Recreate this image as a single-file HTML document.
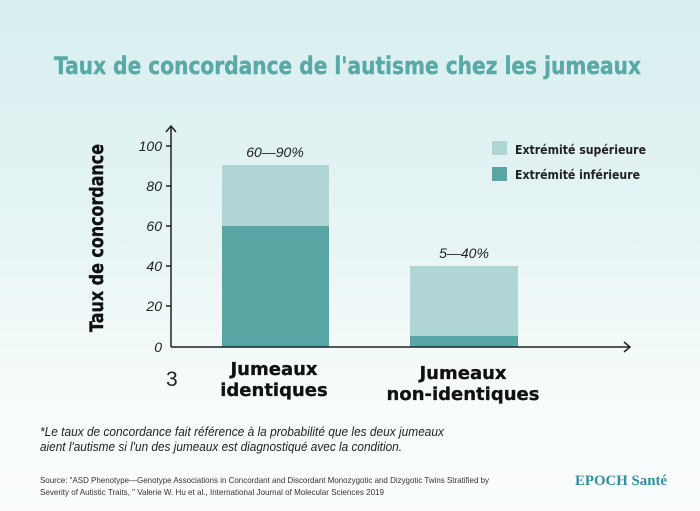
<!DOCTYPE html>
<html><head><meta charset="utf-8"><style>
html,body{margin:0;padding:0}
body{width:700px;height:511px;overflow:hidden;background:linear-gradient(180deg,#d8eff0 0%,#e6f4f4 45%,#f6fbfb 75%,#fbfdfd 100%)}
</style></head><body>
<svg width="700" height="511" xmlns="http://www.w3.org/2000/svg" style="position:absolute;left:0;top:0">
<text x="54" y="74" textLength="587" lengthAdjust="spacingAndGlyphs" font-family="DejaVu Sans" font-weight="bold" font-size="24" fill="#5aa9a6" stroke="#5aa9a6" stroke-width="0.4">Taux de concordance de l'autisme chez les jumeaux</text>
<rect x="222" y="165" width="107" height="61" fill="#afd6d4"/>
<rect x="222" y="226" width="107" height="121" fill="#57a6a4"/>
<rect x="410" y="266" width="108" height="70" fill="#afd6d4"/>
<rect x="410" y="336" width="108" height="11" fill="#57a6a4"/>
<g stroke="#222" stroke-width="1.5" fill="none">
<line x1="171" y1="126" x2="171" y2="347"/>
<polyline points="166,132 171,126 176,132"/>
<line x1="171" y1="347" x2="630" y2="347"/>
<polyline points="624,342 630,347 624,352"/>
<line x1="166" y1="146" x2="171" y2="146"/>
<line x1="166" y1="186" x2="171" y2="186"/>
<line x1="166" y1="226" x2="171" y2="226"/>
<line x1="166" y1="266" x2="171" y2="266"/>
<line x1="166" y1="306" x2="171" y2="306"/>
</g>
<g font-family="Liberation Sans" font-style="italic" font-size="14" fill="#222" text-anchor="end">
<text x="162" y="151">100</text><text x="162" y="191">80</text><text x="162" y="231">60</text>
<text x="162" y="271">40</text><text x="162" y="311">20</text><text x="162" y="352">0</text>
</g>
<text x="275" y="157" text-anchor="middle" font-family="Liberation Sans" font-style="italic" font-size="14" fill="#222">60—90%</text>
<text x="464" y="258" text-anchor="middle" font-family="Liberation Sans" font-style="italic" font-size="14" fill="#222">5—40%</text>
<text transform="translate(103,238) rotate(-90)" text-anchor="middle" font-family="DejaVu Sans" font-weight="bold" font-size="19" fill="#111" stroke="#111" stroke-width="0.4" textLength="188" lengthAdjust="spacingAndGlyphs">Taux de concordance</text>
<text x="166" y="386" font-family="Liberation Sans" font-size="21" fill="#222">3</text>
<g font-family="DejaVu Sans" font-weight="bold" font-size="18" fill="#111" text-anchor="middle" stroke="#111" stroke-width="0.3">
<text x="274" y="375">Jumeaux</text><text x="274" y="396">identiques</text>
<text x="463" y="379">Jumeaux</text><text x="463" y="400">non-identiques</text>
</g>
<rect x="492" y="141" width="15" height="14" fill="#afd6d4"/>
<rect x="492" y="167" width="15" height="14" fill="#57a6a4"/>
<g font-family="DejaVu Sans" font-weight="bold" font-size="12" fill="#222">
<text x="515" y="154" textLength="131" lengthAdjust="spacingAndGlyphs">Extrémité supérieure</text>
<text x="515" y="179" textLength="125" lengthAdjust="spacingAndGlyphs">Extrémité inférieure</text>
</g>
<g font-family="Liberation Sans" font-style="italic" font-size="12.5" fill="#222">
<text x="40" y="436" textLength="404" lengthAdjust="spacingAndGlyphs">*Le taux de concordance fait référence à la probabilité que les deux jumeaux</text>
<text x="40" y="451" textLength="362" lengthAdjust="spacingAndGlyphs">aient l'autisme si l'un des jumeaux est diagnostiqué avec la condition.</text>
</g>
<g font-family="Liberation Sans" font-size="8.5" fill="#333">
<text x="40" y="483" textLength="449" lengthAdjust="spacingAndGlyphs">Source: "ASD Phenotype—Genotype Associations in Concordant and Discordant Monozygotic and Dizygotic Twins Stratified by</text>
<text x="40" y="495" textLength="344" lengthAdjust="spacingAndGlyphs">Severity of Autistic Traits, " Valerie W. Hu et al., International Journal of Molecular Sciences 2019</text>
</g>
<text x="575" y="485" font-family="Liberation Serif" font-weight="bold" font-size="15" fill="#2f8fa0" textLength="92" lengthAdjust="spacingAndGlyphs">EPOCH Santé</text>
</svg>
</body></html>
